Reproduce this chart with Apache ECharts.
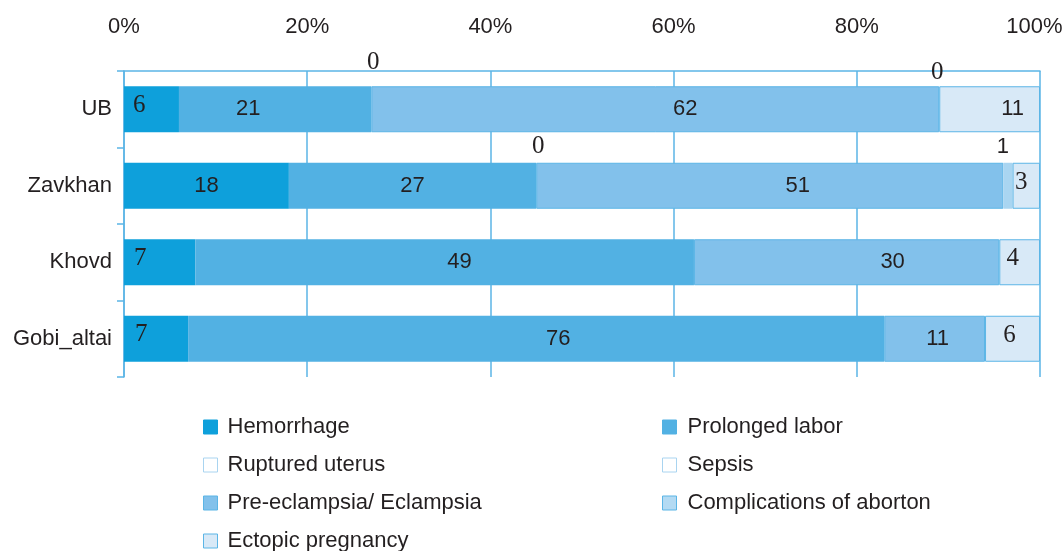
<!DOCTYPE html>
<html>
<head>
<meta charset="utf-8">
<script src="https://cdn.jsdelivr.net/npm/echarts@6/dist/echarts.min.js"></script>
<style>
  html, body { margin: 0; padding: 0; background: #ffffff; }
  #chart { width: 1064px; height: 551px; }
</style>
</head>
<body>
<div id="chart"></div>
<script>
// Causes of maternal death by aimag (%), stacked to 100%
const categories = ['UB', 'Zavkhan', 'Khovd', 'Gobi_altai'];
const hemorrhage = [6, 18, 7, 7];
const prolongedLabor = [21, 27, 49, 76];
const rupturedUterus = [0, 0, 0, 0];
const sepsis = [0, 0, 0, 0];
const preEclampsia = [62, 51, 30, 11];
const abortionComplications = [0, 1, 0, 0];
const ectopicPregnancy = [11, 3, 4, 6];
const percentTicks = ['0%', '20%', '40%', '60%', '80%', '100%'];

const SANS = 'Liberation Sans';
const SERIF = 'Liberation Serif';
const INK = '#231f20';
const LINE = '#5bb5e6';

const rowTotals = categories.map((_, i) =>
  hemorrhage[i] + prolongedLabor[i] + rupturedUterus[i] + sepsis[i] +
  preEclampsia[i] + abortionComplications[i] + ectopicPregnancy[i]);

// label presets
const sans = (pos, off) => ({ show: true, position: pos || 'inside', fontFamily: SANS, fontSize: 22, color: INK, offset: off || [0, 0] });
const serif = (pos, off, dist) => ({ show: true, position: pos || 'inside', fontFamily: SERIF, fontSize: 25, color: INK, offset: off || [0, 0], distance: dist == null ? 5 : dist });
const none = () => ({ show: false });

function build(values, labels) {
  return values.map((v, i) => ({
    value: v / rowTotals[i] * 100,
    raw: v,
    label: labels[i]
  }));
}

const seriesDefs = [
  { name: 'Hemorrhage', values: hemorrhage, color: '#0ea0db',
    labels: [serif('insideLeft', [0, -4], 9), sans(), serif('insideLeft', [0, -4], 10), serif('insideLeft', [0, -4], 11)] },
  { name: 'Prolonged labor', values: prolongedLabor, color: '#52b1e3',
    labels: [sans('inside', [-27, 0]), sans(), sans('inside', [15, 0]), sans('inside', [22, 0])] },
  { name: 'Ruptured uterus', values: rupturedUterus, color: '#ffffff',
    labels: [serif('top', [2, -8], 3), serif('top', [2, -1], 3), none(), none()] },
  { name: 'Sepsis', values: sepsis, color: '#ffffff',
    labels: [none(), none(), none(), none()] },
  { name: 'Pre-eclampsia/ Eclampsia', values: preEclampsia, color: '#82c1eb', border: LINE,
    labels: [sans('inside', [30, 0]), sans('inside', [28, 0]), sans('inside', [46, 0]), sans('inside', [3, 0])] },
  { name: 'Complications of aborton', values: abortionComplications, color: '#a9d5f1',
    labels: [serif('top', [-2, 0], 1), sans('top', [-5, 0]), none(), none()] },
  { name: 'Ectopic pregnancy', values: ectopicPregnancy, color: '#d8e9f7', border: LINE,
    labels: [sans('inside', [23, 0]), serif('inside', [-5, -3]), serif('inside', [-7, -4]), serif('inside', [-3, -3])] }
];

const legendLook = {
  'Hemorrhage': { color: '#0ea0db', borderColor: '#0ea0db', borderWidth: 1 },
  'Prolonged labor': { color: '#52b1e3', borderColor: '#52b1e3', borderWidth: 1 },
  'Ruptured uterus': { color: '#ffffff', borderColor: '#a9d4f0', borderWidth: 1 },
  'Sepsis': { color: '#ffffff', borderColor: '#a9d4f0', borderWidth: 1 },
  'Pre-eclampsia/ Eclampsia': { color: '#82c1eb', borderColor: LINE, borderWidth: 1 },
  'Complications of aborton': { color: '#b3daf3', borderColor: LINE, borderWidth: 1 },
  'Ectopic pregnancy': { color: '#d8e9f7', borderColor: LINE, borderWidth: 1 }
};

const legendBase = {
  orient: 'vertical',
  top: 411,
  height: 160,
  padding: 5,
  itemWidth: 14,
  itemHeight: 14,
  itemGap: 16,
  icon: 'rect',
  selectedMode: false,
  textStyle: { fontFamily: SANS, fontSize: 22, color: INK, lineHeight: 22 }
};

const chart = echarts.init(document.getElementById('chart'), null, { renderer: 'canvas' });

chart.setOption({
  backgroundColor: '#ffffff',
  animation: false,
  grid: { left: 124, right: 24, top: 71, bottom: 174, containLabel: false, outerBoundsMode: 'none' },
  xAxis: {
    type: 'value',
    position: 'top',
    min: 0,
    max: 100,
    interval: 20,
    axisLine: { show: true, lineStyle: { color: LINE, width: 1.5 } },
    axisTick: { show: false },
    splitLine: { show: true, lineStyle: { color: LINE, width: 1.5 } },
    axisLabel: {
      margin: 33,
      fontFamily: SANS,
      fontSize: 22,
      color: INK,
      // keep the last tick label inside the canvas edge
      formatter: v => v === 100 ? '{end|' + percentTicks[5] + '}' : percentTicks[Math.round(v / 20)],
      rich: { end: { fontFamily: SANS, fontSize: 22, color: INK, padding: [0, 11, 0, 0] } }
    }
  },
  yAxis: {
    type: 'category',
    inverse: true,
    data: categories,
    axisLine: { show: true, lineStyle: { color: LINE, width: 1.5 } },
    axisTick: { show: true, length: 7, lineStyle: { color: LINE, width: 1.5 } },
    axisLabel: { margin: 12, fontFamily: SANS, fontSize: 22, color: INK }
  },
  legend: [
    Object.assign({}, legendBase, {
      left: 198,
      data: ['Hemorrhage', 'Ruptured uterus', 'Pre-eclampsia/ Eclampsia', 'Ectopic pregnancy']
        .map(n => ({ name: n, itemStyle: legendLook[n], textStyle: { padding: [0, 0, 0, 5] } }))
    }),
    Object.assign({}, legendBase, {
      left: 657,
      data: ['Prolonged labor', 'Sepsis', 'Complications of aborton']
        .map(n => ({ name: n, itemStyle: legendLook[n], textStyle: { padding: [0, 0, 0, 6] } }))
    })
  ],
  series: seriesDefs.map(s => ({
    name: s.name,
    type: 'bar',
    stack: 'total',
    barWidth: 46,
    itemStyle: {
      color: s.color,
      borderColor: s.border || s.color,
      borderWidth: s.border ? 1 : 0
    },
    label: {
      formatter: p => String(p.data.raw)
    },
    data: build(s.values, s.labels)
  }))
});
</script>
</body>
</html>
